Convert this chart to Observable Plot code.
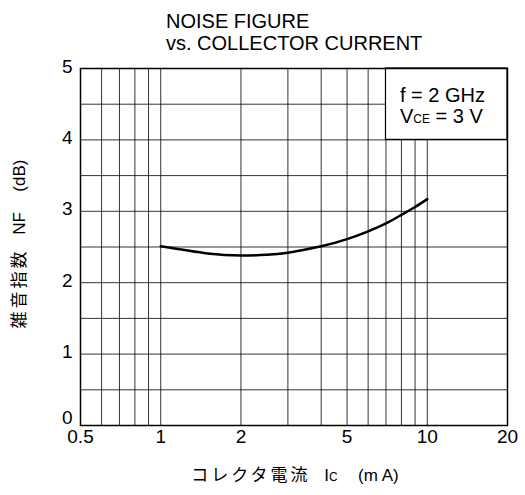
<!DOCTYPE html>
<html>
<head>
<meta charset="utf-8">
<script src="https://cdn.jsdelivr.net/npm/d3@7"></script>
<script src="https://cdn.jsdelivr.net/npm/@observablehq/plot@0.6"></script>
<style>
  html, body { margin: 0; padding: 0; background: #fff; }
  #wrap { position: relative; width: 525px; height: 495px; font-family: "Liberation Sans", Arial, sans-serif; color: #000; overflow: hidden; }
  #wrap svg { position: absolute; left: 0; top: 0; }
  .title { position: absolute; left: 166px; top: 9.5px; font-size: 20px; line-height: 22.5px; white-space: nowrap; }
  .xlab { position: absolute; left: 295px; top: 474px; transform: translate(-50%, -50%); font-size: 17px; letter-spacing: 3px; font-family: "Noto Sans CJK JP", "Liberation Sans", sans-serif; white-space: pre; line-height: 1; }
  .ylab { position: absolute; left: 18px; top: 244px; transform: translate(-50%, -50%) rotate(-90deg); font-size: 17px; letter-spacing: 3px; font-family: "Noto Sans CJK JP", "Liberation Sans", sans-serif; white-space: pre; line-height: 1; }
  .lat { font-family: "Liberation Sans", Arial, sans-serif; letter-spacing: 0; }
  .sub { font-size: 12px; }
  .legend { position: absolute; left: 400px; top: 84.5px; font-size: 20px; line-height: 21px; white-space: nowrap; }
</style>
</head>
<body>
<div id="wrap"></div>
<script>
// Data: collector current Ic (mA) vs noise figure NF (dB)
const icValues = [1, 1.5, 2, 2.5, 3, 4, 5, 6, 7, 8, 9, 10];
const nfValues = [2.51, 2.41, 2.38, 2.39, 2.42, 2.51, 2.61, 2.72, 2.83, 2.95, 3.06, 3.17];
const xTickLabels = [0.5, 1, 2, 5, 10, 20];
const yTickLabels = [0, 1, 2, 3, 4, 5];
const xGrid = [0.6, 0.7, 0.8, 0.9, 1, 2, 3, 4, 5, 6, 7, 8, 9, 10];
const yGrid = [0.5, 1, 1.5, 2, 2.5, 3, 3.5, 4, 4.5];
const legendBox = [{x1: 7, x2: 20, y1: 4, y2: 5}];
const titleLines = ["NOISE FIGURE", "vs. COLLECTOR CURRENT"];

const data = icValues.map((x, i) => ({x, y: nfValues[i]}));

const chart = Plot.plot({
  width: 525,
  height: 495,
  marginLeft: 80,
  marginRight: 18,
  marginTop: 68,
  marginBottom: 70,
  style: {fontFamily: '"Liberation Sans", Arial, sans-serif', background: "transparent"},
  x: {type: "log", domain: [0.5, 20], axis: null},
  y: {domain: [0, 5], axis: null},
  marks: [
    Plot.ruleX(xGrid, {stroke: "#000", strokeOpacity: 0.8, strokeWidth: 1}),
    Plot.ruleY(yGrid, {stroke: "#000", strokeOpacity: 0.8, strokeWidth: 1}),
    Plot.rect(legendBox, {x1: "x1", x2: "x2", y1: "y1", y2: "y2", fill: "#fff", stroke: "#000", strokeWidth: 1.2}),
    Plot.line(data, {x: "x", y: "y", curve: "natural", stroke: "#000", strokeWidth: 2.5}),
    Plot.frame({stroke: "#000", strokeWidth: 1.5}),
    Plot.text(xTickLabels, {x: d => d, frameAnchor: "bottom", dy: 17, text: d => String(d), fontSize: 19, fill: "#000"}),
    Plot.text(yTickLabels.filter(d => d > 0), {y: d => d, frameAnchor: "left", dx: -8, dy: -2, textAnchor: "end", text: d => String(d), fontSize: 19, fill: "#000"}),
    Plot.text(yTickLabels.filter(d => d === 0), {y: d => d, frameAnchor: "left", dx: -8, dy: -8, textAnchor: "end", text: d => String(d), fontSize: 19, fill: "#000"})
  ]
});

const wrap = document.getElementById("wrap");
wrap.appendChild(chart);

const t = document.createElement("div");
t.className = "title";
t.innerHTML = titleLines.join("<br>");
wrap.appendChild(t);

const lg = document.createElement("div");
lg.className = "legend";
lg.innerHTML = 'f = 2 GHz<br>V<span class="sub">CE</span> = 3 V';
wrap.appendChild(lg);

const xl = document.createElement("div");
xl.className = "xlab";
xl.innerHTML = 'コレクタ電流  <span class="lat">I<span class="sub">C</span></span>   <span class="lat">(m A)</span>';
wrap.appendChild(xl);

const yl = document.createElement("div");
yl.className = "ylab";
yl.innerHTML = '雑音指数  <span class="lat">NF</span>   <span class="lat">(dB)</span>';
wrap.appendChild(yl);
</script>
</body>
</html>
